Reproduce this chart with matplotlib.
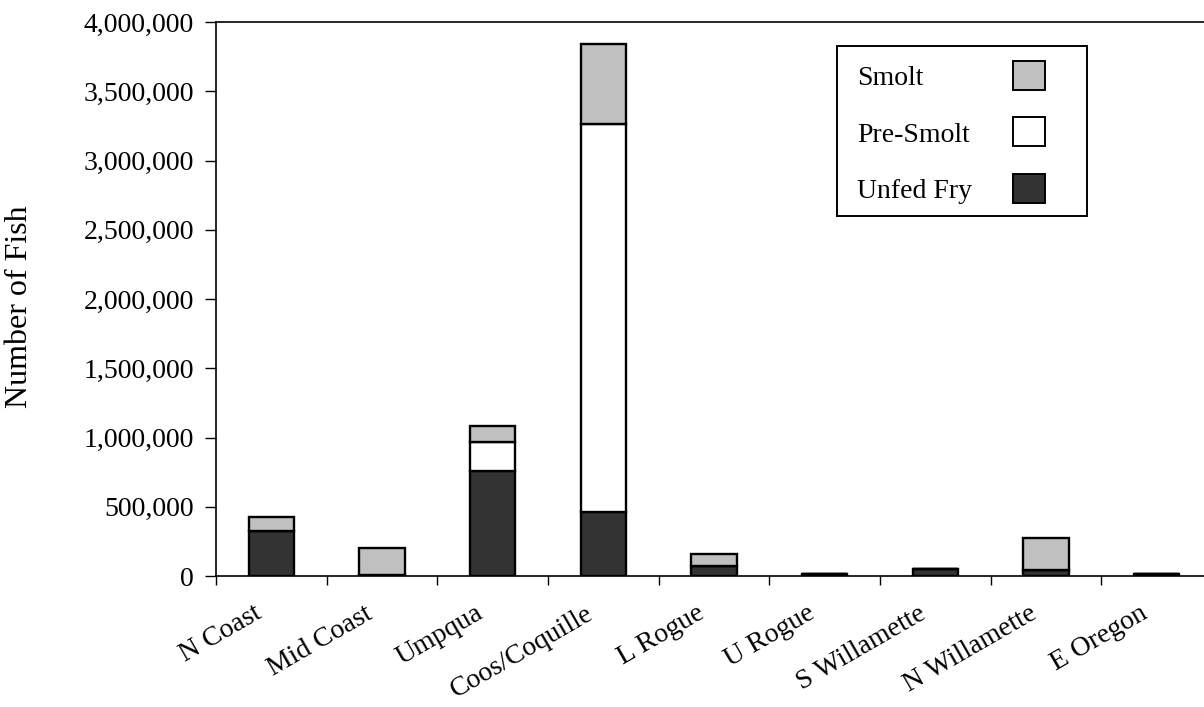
import matplotlib.pyplot as plt
import numpy as np
from matplotlib.patches import Rectangle
from matplotlib.ticker import FuncFormatter

plt.rcParams["font.family"] = ["Liberation Serif", "DejaVu Serif"]

regions = ["N Coast", "Mid Coast", "Umpqua", "Coos/Coquille", "L Rogue",
           "U Rogue", "S Willamette", "N Willamette", "E Oregon"]
unfed_fry = [327000, 10000, 760000, 464000, 72000, 12000, 50000, 46000, 12000]
pre_smolt = [0, 0, 208000, 2800000, 0, 0, 0, 0, 0]
smolt = [99000, 194000, 115000, 579000, 89000, 0, 0, 226000, 0]
y_ticks = [0, 500000, 1000000, 1500000, 2000000, 2500000, 3000000, 3500000, 4000000]
legend_labels = ["Smolt", "Pre-Smolt", "Unfed Fry"]

GRAY = "#c0c0c0"
DARK = "#333333"
W, H = 1204, 707

fig = plt.figure(figsize=(W / 100, H / 100), dpi=100)
ax = fig.add_axes([216 / W, 131 / H, 996 / W, 554 / H])

x = np.arange(len(regions))
w = 0.41
unfed = np.array(unfed_fry)
pre = np.array(pre_smolt)
sm = np.array(smolt)
kw = dict(width=w, edgecolor="black", linewidth=1.7)
ax.bar(x, unfed, color=DARK, **kw)
ax.bar(x, pre, bottom=unfed, color="white", **kw)
ax.bar(x, sm, bottom=unfed + pre, color=GRAY, **kw)

ax.set_xlim(-0.5, len(regions) - 0.5)
ax.set_ylim(0, 4000000)
ax.set_yticks(y_ticks)
ax.yaxis.set_major_formatter(FuncFormatter(lambda v, p: f"{int(v):,}"))
ax.set_xticks(np.arange(len(regions) + 1) - 0.5)
ax.set_xticklabels([])
ax.tick_params(axis="y", direction="out", length=8, width=1, labelsize=20, pad=8)
ax.tick_params(axis="x", direction="out", length=6.5, width=1)
for i, name in enumerate(regions):
    ax.text(i - 0.16, -0.045, name, transform=ax.get_xaxis_transform(),
            rotation=30, ha="right", va="top", rotation_mode="anchor", fontsize=20)

for side in ["left", "bottom", "top"]:
    ax.spines[side].set_linewidth(1.2)
ax.spines["right"].set_visible(False)

ax.set_ylabel("Number of Fish", fontsize=23)
ax.yaxis.set_label_coords((34 - 216) / 996, 0.487)

# legend box drawn by hand: text on the left, swatch on the right
fig.patches.append(Rectangle((837 / W, 1 - 216 / H), 250 / W, 170 / H,
                             transform=fig.transFigure, facecolor="white",
                             edgecolor="black", linewidth=1.4, zorder=5))
for k, (lab, col) in enumerate(zip(legend_labels, [GRAY, "white", DARK])):
    base = 85 + k * 56.5
    fig.text(857 / W, 1 - base / H, lab, fontsize=20, ha="left", va="baseline", zorder=6)
    fig.patches.append(Rectangle((1013 / W, 1 - (base + 4.5) / H), 32 / W, 29 / H,
                                 transform=fig.transFigure, facecolor=col,
                                 edgecolor="black", linewidth=1.4, zorder=6))

fig.savefig("out.png", dpi=100)
